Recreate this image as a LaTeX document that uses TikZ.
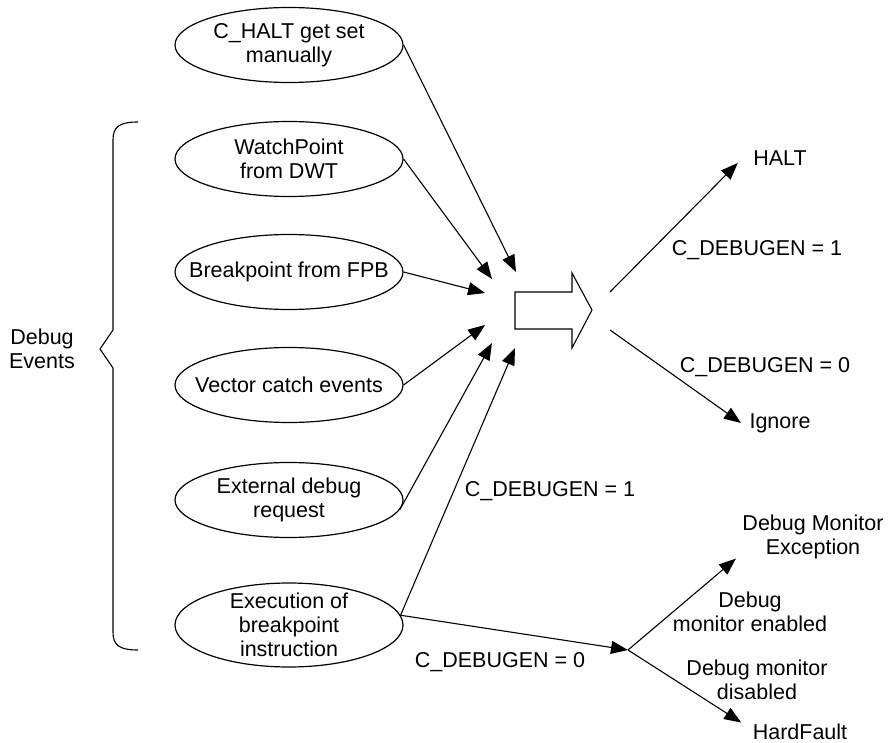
\documentclass[tikz,border=0pt]{standalone}
\usepackage{fontspec}
\setmainfont{Liberation Sans}
\usetikzlibrary{shapes.geometric,arrows.meta}

\tikzstyle{every node}=[font={\fontsize{21.5}{24}\selectfont}, align=center]
\tikzstyle{event}=[draw, ellipse, line width=1.2pt, minimum width=228pt, minimum height=75pt, inner xsep=-20pt, inner ysep=-6pt]
\tikzstyle{result}=[inner sep=3pt]
\tikzstyle{cond}=[inner sep=0pt]
\tikzstyle{flow}=[line width=1.1pt, -{Triangle[length=17pt,width=13pt]}]

\begin{document}
\begin{tikzpicture}[x=1pt, y=-1pt, line width=1.1pt]
    \useasboundingbox (0,0) rectangle (892,743);

    \node [event] (chalt) at (289,45) {C\_HALT get set\\manually};
    \node [event] (watch) at (289,159) {WatchPoint\\from DWT};
    \node [event] (fpb) at (289,272) {Breakpoint from FPB};
    \node [event] (vector) at (289,385) {Vector catch events};
    \node [event] (extreq) at (289,500) {External debug\\request};
    \node [event, minimum height=84pt] (bkpt) at (289,625) {Execution of\\breakpoint\\instruction};

    \node [cond] (events) at (42,349) {Debug\\Events};
    \draw (138,122) .. controls (119,122) and (113,127) .. (113,140) -- (113,330) -- (100,349)
        -- (113,368) -- (113,632) .. controls (113,645) and (119,650) .. (138,650);

    \draw (515,292) -- (572,292) -- (572,273) -- (592,310) -- (572,348) -- (572,329) -- (515,329) -- cycle;

    \coordinate (in1) at (516,272);
    \coordinate (in2) at (492,279);
    \coordinate (in3) at (485,293);
    \coordinate (in4) at (485,325);
    \coordinate (in5) at (492,343);
    \coordinate (in6) at (515,348);
    \coordinate (up) at (610,292);
    \coordinate (down) at (610,330);
    \coordinate (split) at (628,650);

    \draw [flow] (chalt.east) -- (in1);
    \draw [flow] (watch.east) -- (in2);
    \draw [flow] (fpb.east) -- (in3);
    \draw [flow] (vector.east) -- (in4);
    \draw [flow] (extreq.-5) -- (in5);
    \draw [flow] (bkpt.5) -- (in6);
    \draw [flow] (bkpt.5) -- (split);

    \node [result] (halt) at (780,158) {HALT};
    \node [result] (ignore) at (780,423) {Ignore};
    \node [result] (monexc) at (813,537) {Debug Monitor\\Exception};
    \node [result] (hardfault) at (800,732) {HardFault};

    \draw [flow] (up) -- ([shift={(-12,5)}]halt.west);
    \draw [flow] (down) -- ([shift={(-5,0)}]ignore.west);
    \draw [flow] (split) -- ([shift={(-3,-4)}]monexc.south west);
    \draw [flow] (split) -- ([shift={(-8,2)}]hardfault.north west);

    \node [cond] (haltcond) at (757,250) {C\_DEBUGEN = 1};
    \node [cond] (ignorecond) at (765,367) {C\_DEBUGEN = 0};
    \node [cond] (bkptcond1) at (550,491) {C\_DEBUGEN = 1};
    \node [cond] (bkptcond0) at (500,662) {C\_DEBUGEN = 0};
    \node [cond] (enabled) at (750,612) {Debug\\monitor enabled};
    \node [cond] (disabled) at (757,680) {Debug monitor\\disabled};
\end{tikzpicture}
\end{document}
